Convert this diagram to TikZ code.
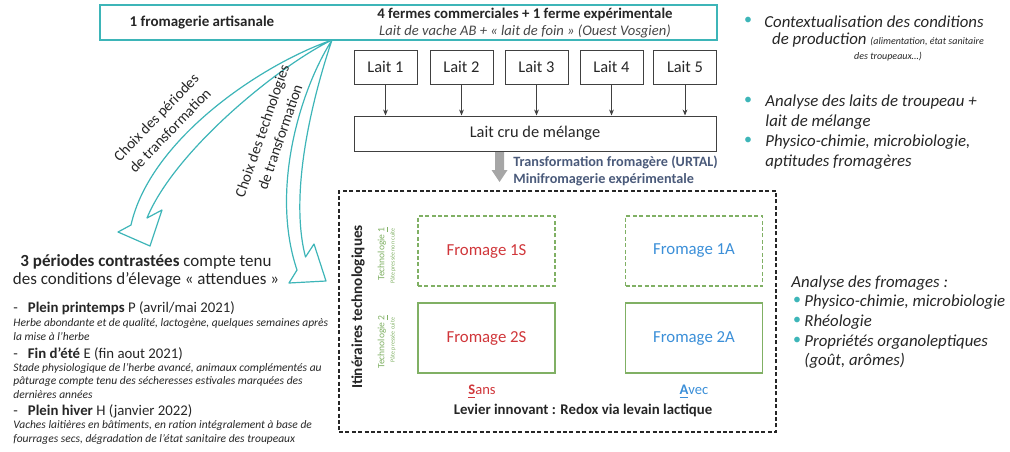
\documentclass[tikz,border=0pt]{standalone}
\usepackage{fontspec}
\setmainfont{Carlito}
\usetikzlibrary{arrows.meta}

\definecolor{turquoise}{HTML}{3DB5B8}
\definecolor{vert}{HTML}{80B064}
\definecolor{rouge}{HTML}{D0363A}
\definecolor{bleu}{HTML}{3B8FD8}
\definecolor{ardoise}{HTML}{4A5A7A}
\definecolor{gris}{HTML}{A6A6A6}
\definecolor{encre}{HTML}{262626}

\begin{document}
\begin{tikzpicture}[x=0.5pt, y=-0.5pt,
		lait/.style={draw=black!75, line width=0.5pt, minimum width=31.5pt, minimum height=17pt, inner sep=0pt, text=encre, font=\fontsize{8.2}{10}\selectfont},
		fromage/.style={draw=vert, line width=0.6pt, minimum width=68.5pt, minimum height=35pt, font=\fontsize{8.4}{10}\selectfont},
		tirets/.style={dash pattern=on 2pt off 1.2pt},
		puce/.style={text=turquoise, inner sep=0pt, font=\fontsize{8}{10}\selectfont},
		analyse/.style={anchor=west, align=left, inner sep=0pt, text=encre, font=\itshape\fontsize{8.4}{10}\selectfont},
		periode/.style={anchor=west, inner sep=0pt, text=encre, font=\fontsize{7.4}{9}\selectfont},
		detail/.style={anchor=west, align=left, inner sep=0pt, text=encre, font=\itshape\fontsize{5.75}{6.75}\selectfont},
		choix/.style={align=center, inner sep=0pt, text=encre, font=\fontsize{7.5}{9.5}\selectfont},
		courbe/.style={draw=turquoise, line width=0.6pt, fill=white, line join=round}]
		\useasboundingbox (0,0) rectangle (1010,451);

		% bandeau du haut
		\node[draw=turquoise, line width=1.2pt, minimum width=308.5pt, minimum height=17.5pt, inner sep=0pt] (T) at (408.5,22.5) {};
		\node[font=\bfseries\fontsize{7.5}{9}\selectfont, text=encre] (fromagerie) at (202,22) {1 fromagerie artisanale};
		\node[font=\bfseries\fontsize{7.4}{9}\selectfont, text=encre] (fermes) at (525,14) {4 fermes commerciales + 1 ferme expérimentale};
		\node[font=\itshape\fontsize{7.3}{9}\selectfont, text=encre!85] (vache) at (525,31) {Lait de vache AB + « lait de foin » (Ouest Vosgien)};
		\coordinate (O) at (332,40);

		% laits
		\node[lait] (L1) at (385.5,67) {Lait 1};
		\node[lait] (L2) at (461.5,67) {Lait 2};
		\node[lait] (L3) at (536.5,67) {Lait 3};
		\node[lait] (L4) at (611.5,67) {Lait 4};
		\node[lait] (L5) at (685,67) {Lait 5};
		\node[lait, minimum width=181pt, minimum height=17.5pt] (M) at (535,133.5) {Lait cru de mélange};

		\draw[-{Stealth[length=3pt,width=2.4pt]}, black!75, line width=0.4pt] (L1) -- (L1 |- M.north);
		\draw[-{Stealth[length=3pt,width=2.4pt]}, black!75, line width=0.4pt] (L2) -- (L2 |- M.north);
		\draw[-{Stealth[length=3pt,width=2.4pt]}, black!75, line width=0.4pt] (L3) -- (L3 |- M.north);
		\draw[-{Stealth[length=3pt,width=2.4pt]}, black!75, line width=0.4pt] (L4) -- (L4 |- M.north);
		\draw[-{Stealth[length=3pt,width=2.4pt]}, black!75, line width=0.4pt] (L5) -- (L5 |- M.north);

		% transformation
		\fill[gris] (495,152) -- (504,152) -- (504,170) -- (507.5,170) -- (499.5,182) -- (491.5,170) -- (495,170) -- cycle;
		\node[anchor=west, inner sep=0pt, text=ardoise, font=\bfseries\fontsize{7.1}{9}\selectfont] (urtal) at (513,162) {Transformation fromagère (URTAL)};
		\node[anchor=west, inner sep=0pt, text=ardoise, font=\bfseries\fontsize{7.1}{9}\selectfont] (mini) at (513,180) {Minifromagerie expérimentale};

		% atelier
		\node[draw=encre, tirets, line width=0.75pt, minimum width=218.5pt, minimum height=120.5pt] (A) at (557.5,311.5) {};
		\node[fromage, tirets, text=rouge] (F1S) at (486.5,251) {Fromage 1S};
		\node[fromage, tirets, text=bleu] (F1A) at (694,251) {Fromage 1A};
		\node[fromage, text=rouge] (F2S) at (486.5,338) {Fromage 2S};
		\node[fromage, text=bleu] (F2A) at (694,338) {Fromage 2A};

		\node[rotate=90, text=encre, font=\bfseries\fontsize{7.6}{9}\selectfont] (itin) at (358,307) {Itinéraires technologiques};
		\node[rotate=90, text=vert, inner sep=0pt, font=\fontsize{4.8}{6}\selectfont] (tech1) at (383,254) {Technologie \underline{1}};
		\node[rotate=90, text=vert, inner sep=0pt, font=\fontsize{3}{4}\selectfont] (pate1) at (393,256) {Pâte pressée non cuite};
		\node[rotate=90, text=vert, inner sep=0pt, font=\fontsize{4.8}{6}\selectfont] (tech2) at (383,342) {Technologie \underline{2}};
		\node[rotate=90, text=vert, inner sep=0pt, font=\fontsize{3}{4}\selectfont] (pate2) at (393,340) {Pâte pressée cuite};

		\node[text=rouge, font=\fontsize{7.3}{9}\selectfont] (sans) at (482,392) {\underline{\textbf{S}}ans};
		\node[text=bleu, font=\fontsize{7.3}{9}\selectfont] (avec) at (694,392) {\underline{\textbf{A}}vec};
		\node[text=encre, font=\bfseries\fontsize{7.4}{9}\selectfont] (levier) at (583,410) {Levier innovant : Redox via levain lactique};

		% fleches courbes
		\draw[courbe] (O) .. controls (260,65) and (150,140) .. (131,225) -- (118,232) -- (150,246) -- (162,210) -- (147,218) .. controls (175,150) and (280,65) .. (O);
		\draw[courbe] (O) .. controls (300,90) and (270,190) .. (297,270) -- (289,283) -- (326,281) -- (314,244) -- (305.5,257) .. controls (288,190) and (315,90) .. (O);
		\node[choix, rotate=46] (periodes) at (163,124) {Choix des périodes\\de transformation};
		\node[choix, rotate=71] (technos) at (271,134) {Choix des technologies\\de transformation};

		% periodes
		\node[align=center, inner sep=0pt, text=encre, font=\fontsize{8.5}{9.2}\selectfont] (titre) at (146,271) {\textbf{3 périodes contrastées} compte tenu\\des conditions d’élevage « attendues »};
		\node[periode] (P) at (13,308) {-\hspace{5pt}\textbf{Plein printemps} P (avril/mai 2021)};
		\node[detail] (Pd) at (13,329.5) {Herbe abondante et de qualité, lactogène, quelques semaines après\\la mise à l’herbe};
		\node[periode] (E) at (13,354) {-\hspace{5pt}\textbf{Fin d’été} E (fin aout 2021)};
		\node[detail] (Ed) at (13,381) {Stade physiologique de l’herbe avancé, animaux complémentés au\\pâturage compte tenu des sécheresses estivales marquées des\\dernières années};
		\node[periode] (H) at (13,411) {-\hspace{5pt}\textbf{Plein hiver} H (janvier 2022)};
		\node[detail] (Hd) at (13,432.5) {Vaches laitières en bâtiments, en ration intégralement à base de\\fourrages secs, dégradation de l’état sanitaire des troupeaux};

		% analyses
		\node[puce] (b1) at (748,21) {•};
		\node[text=encre, inner sep=0pt, font=\itshape\fontsize{8.4}{10}\selectfont] (ctx1) at (874,22) {Contextualisation des conditions};
		\node[text=encre, inner sep=0pt, font=\itshape\fontsize{8.4}{10}\selectfont] (ctx2) at (878,40) {de production {\fontsize{5}{6}\selectfont (alimentation, état sanitaire}};
		\node[text=encre, inner sep=0pt, font=\itshape\fontsize{5}{6}\selectfont] (ctx3) at (888,57) {des troupeaux…)};
		\node[puce] (b2) at (748,101) {•};
		\node[analyse] (laits) at (765,112) {Analyse des laits de troupeau +\\lait de mélange};
		\node[puce] (b3) at (748,141) {•};
		\node[analyse] (physico) at (765,152) {Physico-chimie, microbiologie,\\aptitudes fromagères};

		\node[analyse] (fromages) at (791,283) {Analyse des fromages :};
		\node[puce] (b4) at (797,301) {•};
		\node[analyse] (physico2) at (804,302) {Physico-chimie, microbiologie};
		\node[puce] (b5) at (797,321) {•};
		\node[analyse] (rheo) at (804,322) {Rhéologie};
		\node[puce] (b6) at (797,341) {•};
		\node[analyse, font=\itshape\fontsize{8.4}{9.5}\selectfont] (orga) at (804,351.5) {Propriétés organoleptiques\\(goût, arômes)};

	\end{tikzpicture}
\end{document}
